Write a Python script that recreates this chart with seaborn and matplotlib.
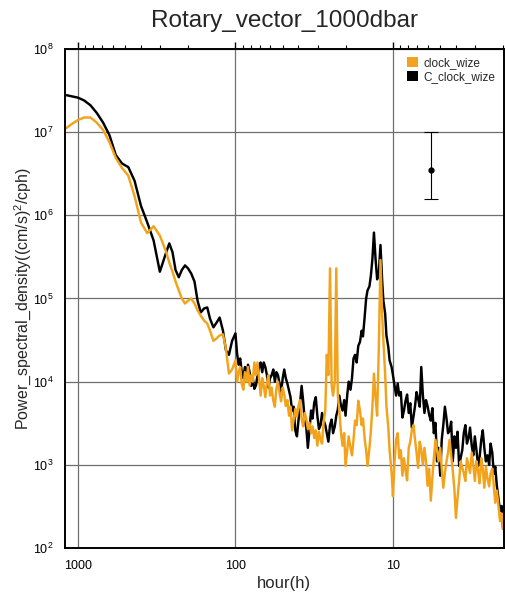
import matplotlib
matplotlib.use("Agg")
import matplotlib.pyplot as plt
import seaborn as sns
import pandas as pd
from matplotlib.patches import Patch
from matplotlib.ticker import FixedLocator, FixedFormatter, LogLocator, LogFormatterMathtext, NullFormatter

# period axis (hours)
period_h = [1202, 1096, 1000, 912, 832, 759, 692, 631, 575, 525, 479, 437, 398, 363, 331, 302, 275,
            263, 251, 240, 229, 219, 209, 200, 191, 182, 174, 166, 158, 151, 145, 138, 132, 126, 120, 115, 110, 105,
            100, 97.7, 95.5, 93.3, 91.2, 89.1, 87.1, 85.1, 83.2, 81.3,
            79.4, 77.6, 75.9, 74.1, 72.4, 70.8, 69.2, 67.6, 66.1, 64.6,
            63.1, 61.7, 60.3, 58.9, 57.5, 56.2, 55.0, 53.7, 52.5, 51.3,
            50.1, 49.0, 47.9, 46.8, 45.7, 44.7, 43.7, 42.7, 41.7, 40.7,
            39.8, 38.9, 38.0, 37.2, 36.3, 35.5, 34.7, 33.9, 33.1, 32.4,
            31.6, 30.9, 30.2, 29.5, 28.8, 28.2, 27.5, 26.9, 26.3, 25.7,
            25.1, 24.5, 24.0, 23.4, 22.9, 22.4, 21.9, 21.4, 20.9, 20.4,
            20.0, 19.5, 19.1, 18.6, 18.2, 17.8, 17.4, 17.0, 16.6, 16.2,
            15.8, 15.5, 15.1, 14.8, 14.5, 14.1, 13.8, 13.5, 13.2, 12.9,
            12.6, 12.3, 12.0, 11.7, 11.5, 11.2, 11.0, 10.7, 10.5, 10.2,
            10.0, 9.77, 9.55, 9.33, 9.12, 8.91, 8.71, 8.51, 8.32, 8.13,
            7.94, 7.76, 7.59, 7.41, 7.24, 7.08, 6.92, 6.76, 6.61, 6.46,
            6.31, 6.17, 6.03, 5.89, 5.75, 5.62, 5.50, 5.37, 5.25, 5.13,
            5.01, 4.90, 4.79, 4.68, 4.57, 4.47, 4.37, 4.27, 4.17, 4.07,
            3.98, 3.89, 3.80, 3.72, 3.63, 3.55, 3.47, 3.39, 3.31, 3.24,
            3.16, 3.09, 3.02, 2.95, 2.88, 2.82, 2.75, 2.69, 2.63, 2.57,
            2.51, 2.45, 2.40, 2.34, 2.29, 2.24, 2.19, 2.14, 2.09, 2.04,
            2.00]

# counter-clockwise PSD
c_clock_wize = [2.8e7, 2.7e7, 2.6e7, 2.4e7, 2.1e7, 1.7e7, 1.3e7, 9.2e6, 5.3e6, 4.2e6, 3.8e6, 2.6e6, 1.3e6, 8.2e5,
                5.0e5, 2.1e5, 3.6e5,
                4.6e5, 3.6e5, 2.2e5, 1.8e5, 2.2e5, 2.5e5, 2.3e5, 2.0e5, 1.6e5, 9.4e4, 6.8e4, 7.6e4, 7.8e4, 5.7e4,
                4.5e4, 5.1e4, 5.9e4, 4.1e4, 2.4e4, 2.1e4, 3.1e4,
                3.8e4, 2.2e4, 1.6e4, 1.9e4, 1.3e4, 1.1e4, 1.5e4, 1.2e4, 1.6e4, 1.3e4,
                8.9e3, 1.1e4, 8.2e3, 9.0e3, 1.2e4, 1.5e4, 1.7e4, 1.3e4, 1.7e4, 1.5e4,
                1.2e4, 8.5e3, 1.1e4, 1.2e4, 1.4e4, 1.0e4, 1.3e4, 1.2e4, 9.4e3, 7.5e3,
                1.1e4, 1.4e4, 1.1e4, 9.5e3, 7.8e3, 6.5e3, 4.5e3, 5.0e3, 2.6e3, 2.2e3,
                3.4e3, 5.5e3, 8.9e3, 6.0e3, 3.4e3, 2.8e3, 1.6e3, 2.6e3, 4.5e3, 3.6e3,
                5.6e3, 6.5e3, 3.9e3, 2.7e3, 3.0e3, 4.2e3, 3.4e3, 3.0e3, 2.4e3, 1.9e3,
                3.0e3, 3.5e3, 2.4e3, 2.9e3, 3.9e3, 4.6e3, 6.8e3, 5.2e3, 4.5e3, 6.0e3,
                3.9e3, 7.0e3, 1.0e4, 8.0e3, 1.1e4, 1.9e4, 2.1e4, 1.7e4, 2.7e4, 3.0e4,
                4.1e4, 3.5e4, 6.2e4, 1.0e5, 1.25e5, 1.4e5, 1.9e5, 3.0e5, 6.2e5, 3.0e5,
                1.7e5, 2.0e5, 4.4e5, 1.6e5, 9.4e4, 6.5e4, 3.6e4, 2.6e4, 1.8e4, 1.5e4,
                1.2e4, 9.0e3, 6.8e3, 9.5e3, 6.8e3, 7.5e3, 3.7e3, 4.5e3, 5.9e3, 7.0e3,
                4.2e3, 5.5e3, 2.8e3, 3.8e3, 5.1e3, 7.5e3, 6.2e3, 5.0e3, 1.5e4, 7.0e3,
                4.2e3, 6.0e3, 5.1e3, 4.0e3, 3.4e3, 4.8e3, 2.4e3, 3.2e3, 1.1e3, 1.6e3,
                7.4e2, 2.0e3, 3.0e3, 5.0e3, 3.6e3, 2.4e3, 2.6e3, 3.3e3, 1.1e3, 2.2e3,
                1.6e3, 2.5e3, 9.7e2, 1.2e3, 1.5e3, 2.4e3, 3.0e3, 1.8e3, 2.1e3, 2.8e3,
                1.7e3, 1.3e3, 2.2e3, 1.5e3, 9.7e2, 1.2e3, 2.0e3, 2.6e3, 1.6e3, 1.1e3,
                1.3e3, 1.0e3, 1.8e3, 1.4e3, 7.8e2, 9.5e2, 5.6e2, 4.0e2, 2.8e2, 3.2e2,
                1.7e2]

# clockwise PSD
clock_wize = [1.1e7, 1.25e7, 1.4e7, 1.5e7, 1.5e7, 1.3e7, 1.06e7, 7.6e6, 4.9e6, 3.7e6, 3.0e6, 1.7e6, 8.2e5, 6.1e5,
              7.4e5, 5.7e5, 3.6e5,
              2.7e5, 2.1e5, 1.6e5, 1.25e5, 1.0e5, 8.7e4, 9.4e4, 1.0e5, 8.7e4, 7.2e4, 6.2e4, 5.4e4, 5.0e4, 4.1e4,
              3.1e4, 3.3e4, 3.6e4, 3.7e4, 2.5e4, 1.25e4, 1.4e4,
              1.8e4, 1.0e4, 1.3e4, 1.5e4, 9.4e3, 8.0e3, 1.3e4, 1.0e4, 1.5e4, 9.0e3,
              1.2e4, 1.0e4, 1.7e4, 1.2e4, 1.7e4, 1.1e4, 6.8e3, 1.1e4, 8.9e3, 6.5e3,
              9.7e3, 1.2e4, 6.8e3, 8.5e3, 5.9e3, 5.0e3, 8.2e3, 1.0e4, 7.4e3, 5.8e3,
              8.5e3, 7.0e3, 5.1e3, 6.0e3, 3.9e3, 5.0e3, 2.6e3, 3.5e3, 4.7e3, 3.8e3,
              5.1e3, 6.0e3, 3.6e3, 2.9e3, 4.2e3, 3.6e3, 2.7e3, 3.2e3, 2.4e3, 2.9e3,
              2.1e3, 2.6e3, 1.7e3, 2.5e3, 2.0e3, 1.8e3, 3.4e3, 4.5e3, 2.1e4, 1.2e4,
              2.3e5, 9.0e3, 6.8e3, 1.0e4, 2.3e5, 7.0e3, 4.5e3, 2.5e3, 1.7e3, 2.4e3,
              9.7e2, 1.5e3, 2.2e3, 1.6e3, 1.3e3, 2.0e3, 3.4e3, 3.0e3, 5.9e3, 4.5e3,
              3.0e3, 3.6e3, 2.0e3, 1.5e3, 9.7e2, 1.6e3, 2.6e3, 5.0e3, 1.25e4, 6.5e3,
              3.9e3, 2.5e4, 2.9e5, 6.0e4, 3.1e4, 1.2e4, 5.1e3, 2.8e3, 1.5e3, 8.0e2,
              4.2e2, 1.1e3, 2.0e3, 2.4e3, 1.2e3, 1.5e3, 7.4e2, 1.2e3, 8.5e2, 6.5e2,
              1.6e3, 1.9e3, 2.6e3, 3.0e3, 2.0e3, 1.4e3, 9.2e2, 1.9e3, 1.5e3, 1.0e3,
              1.6e3, 1.1e3, 5.6e2, 9.0e2, 3.7e2, 7.0e2, 1.2e3, 2.0e3, 1.5e3, 1.1e3,
              1.6e3, 9.0e2, 5.3e2, 8.0e2, 1.1e3, 1.4e3, 2.0e3, 1.3e3, 8.5e2, 5.0e2,
              2.3e2, 4.0e2, 6.4e2, 1.1e3, 9.2e2, 8.0e2, 6.4e2, 1.2e3, 9.7e2, 8.0e2,
              1.4e3, 1.0e3, 6.4e2, 1.1e3, 8.5e2, 6.0e2, 1.2e3, 9.0e2, 5.3e2, 9.5e2,
              6.8e2, 5.5e2, 7.8e2, 9.0e2, 5.6e2, 3.5e2, 4.9e2, 3.3e2, 2.1e2, 2.6e2,
              1.7e2]

# confidence interval bar
err_period = [5.7]
err_center = [3.5e6]
err_low = [1.55e6]
err_high = [1.0e7]

series_names = ["clock_wize", "C_clock_wize"]
x_tick_values = [1000, 100, 10]
x_tick_labels = ["1000", "100", "10"]
y_tick_values = [1e2, 1e3, 1e4, 1e5, 1e6, 1e7, 1e8]

ORANGE = "#F2A31B"

sns.set_style("white")
plt.rcParams["font.family"] = ["Liberation Sans", "DejaVu Sans"]
plt.rcParams["mathtext.fontset"] = "custom"
plt.rcParams["mathtext.rm"] = "Liberation Sans"
plt.rcParams["mathtext.it"] = "Liberation Sans:italic"
plt.rcParams["mathtext.bf"] = "Liberation Sans:bold"

n = len(period_h)
df = pd.DataFrame({
    "period": period_h * 2,
    "psd": c_clock_wize + clock_wize,
    "series": ["C_clock_wize"] * n + ["clock_wize"] * n,
})

fig = plt.figure(figsize=(5.06, 6.01), dpi=100)
ax = fig.add_axes([0.1285, 0.0882, 0.867, 0.8303])
ax.set_xscale("log")
ax.set_yscale("log")

sns.lineplot(data=df, x="period", y="psd", hue="series",
             hue_order=["C_clock_wize", "clock_wize"],
             palette={"C_clock_wize": "black", "clock_wize": ORANGE},
             estimator=None, sort=False, linewidth=1.75, legend=False, ax=ax)

ax.errorbar(err_period, err_center,
            yerr=[[c - l for c, l in zip(err_center, err_low)], [h - c for c, h in zip(err_center, err_high)]],
            fmt="o", color="black", ms=3.5, capsize=5, elinewidth=0.8, capthick=0.8, zorder=5)

ax.set_xlim(1208, 1.98)
ax.set_ylim(1e2, 1e8)

ax.xaxis.set_major_locator(FixedLocator(x_tick_values))
ax.xaxis.set_major_formatter(FixedFormatter(x_tick_labels))
ax.xaxis.set_minor_locator(LogLocator(base=10, subs=range(2, 10)))
ax.xaxis.set_minor_formatter(NullFormatter())
ax.yaxis.set_major_locator(FixedLocator(y_tick_values))
ax.yaxis.set_major_formatter(LogFormatterMathtext())
ax.yaxis.set_minor_locator(LogLocator(base=10, subs=range(2, 10), numticks=20))
ax.yaxis.set_minor_formatter(NullFormatter())

ax.grid(True, which="major", color="#6f6f6f", linewidth=0.9)
ax.set_axisbelow(True)
for s in ax.spines.values():
    s.set_color("black")
    s.set_linewidth(1.4)
ax.tick_params(which="both", direction="out", top=True, right=False, colors="black", labelsize=9)
ax.tick_params(which="major", length=5, width=1)
ax.tick_params(which="minor", length=3, width=0.8)

ax.set_xlabel("hour(h)", fontsize=12, labelpad=3)
ax.set_ylabel("Power_spectral_density((cm/s)$^2$/cph)", fontsize=11.5)
ax.yaxis.set_label_coords(-0.072, 0.5)
ax.set_title("Rotary_vector_1000dbar", fontsize=17.5, pad=16)

handles = [Patch(facecolor=ORANGE, edgecolor="none"), Patch(facecolor="black", edgecolor="none")]
ax.legend(handles, series_names, loc="upper right", frameon=False, fontsize=8.5,
          handlelength=0.9, handleheight=0.9, handletextpad=0.5, labelspacing=0.15,
          borderaxespad=0.3)

fig.savefig("out.png", dpi=100)
